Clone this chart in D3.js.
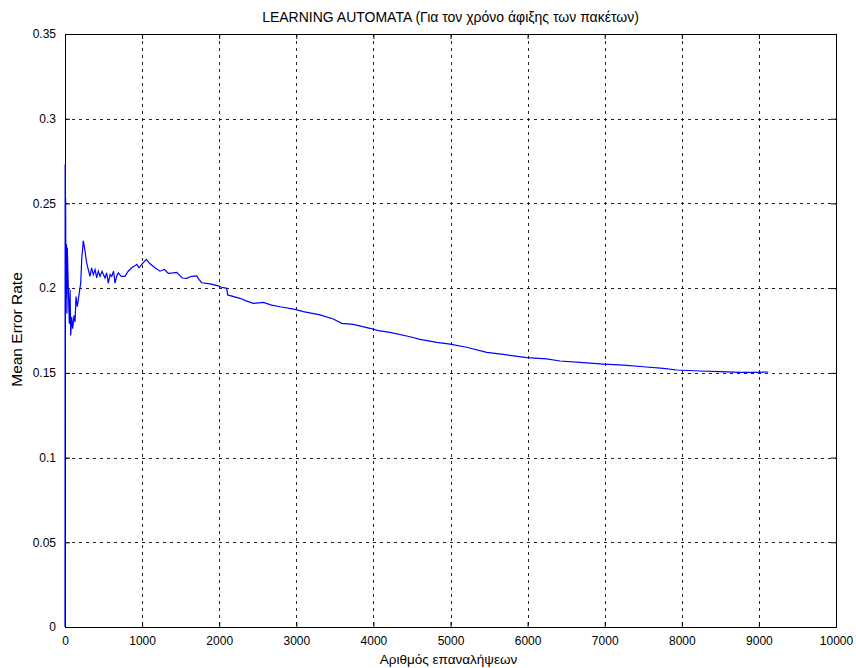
<!DOCTYPE html>
<html>
<head>
<meta charset="utf-8">
<script src="https://cdn.jsdelivr.net/npm/d3@7"></script>
<style>
  body { margin: 0; background: #fff; }
  text { font-family: "Liberation Sans", Arial, sans-serif; fill: #000; }
</style>
</head>
<body>
<div class="chart"></div>
<script>
// iterations vs. mean error rate
var iterations = [0, 2, 5, 8, 12, 18, 25, 30, 43, 56, 66, 74, 87, 100, 117, 130, 143, 160, 178, 204,
  217, 237, 259, 280, 302, 324, 345, 367, 390, 411, 432, 454, 480, 519, 540, 562, 585, 606, 630, 649,
  670, 691, 730, 778, 820, 865, 900, 931, 960, 995, 1055, 1100, 1167, 1232, 1290, 1340, 1400, 1449,
  1520, 1578, 1640, 1708, 1740, 1773, 1880, 1988, 2030, 2097, 2110, 2270, 2350, 2442, 2572, 2680,
  2789, 2983, 3091, 3307, 3480, 3589, 3739, 3956, 4064, 4215, 4475, 4604, 4821, 4994, 5210, 5470,
  5685, 5988, 6248, 6420, 6723, 6982, 7241, 7501, 7760, 7934, 8236, 8495, 8755, 8971, 9122];
var errorRate = [0, 0.273, 0.166, 0.253, 0.195, 0.226, 0.185, 0.224, 0.200, 0.179, 0.199, 0.172, 0.183,
  0.176, 0.184, 0.180, 0.195, 0.189, 0.195, 0.203, 0.217, 0.228, 0.222, 0.215, 0.211, 0.207, 0.212,
  0.208, 0.211, 0.206, 0.210, 0.207, 0.210, 0.206, 0.209, 0.203, 0.208, 0.207, 0.210, 0.203, 0.207,
  0.209, 0.207, 0.207, 0.210, 0.212, 0.213, 0.214, 0.212, 0.214, 0.217, 0.2145, 0.212, 0.210, 0.211,
  0.2087, 0.209, 0.2093, 0.206, 0.2058, 0.207, 0.2072, 0.205, 0.2032, 0.2025, 0.2013, 0.2005, 0.1999,
  0.196, 0.1940, 0.1925, 0.1910, 0.1916, 0.1900, 0.1890, 0.1875, 0.1861, 0.1842, 0.1818, 0.1792,
  0.1786, 0.1763, 0.1749, 0.1739, 0.1713, 0.1698, 0.1680, 0.1670, 0.1651, 0.1621, 0.1609, 0.1590,
  0.1582, 0.1570, 0.1560, 0.1552, 0.1546, 0.1536, 0.1527, 0.1517, 0.1511, 0.1507, 0.1503, 0.1503, 0.1505];

var xTicks = [0, 1000, 2000, 3000, 4000, 5000, 6000, 7000, 8000, 9000, 10000];
var yTicks = [0, 0.05, 0.1, 0.15, 0.2, 0.25, 0.3, 0.35];

var chartTitle = "LEARNING AUTOMATA (Για τον χρόνο άφιξης των πακέτων)";
var xLabel = "Αριθμός επαναλήψεων";
var yLabel = "Mean Error Rate";

var margin = {top: 34, right: 20, bottom: 41, left: 65},
    width = 856 - margin.left - margin.right,
    height = 668 - margin.top - margin.bottom;

var svg = d3.select(".chart").append("svg")
    .attr("width", 856)
    .attr("height", 668);

var g = svg.append("g")
    .attr("transform", "translate(" + margin.left + "," + margin.top + ")");

var x = d3.scaleLinear().domain([0, 10000]).range([0, width]);
var y = d3.scaleLinear().domain([0, 0.35]).range([height, 0]);

// dotted grid
g.append("g")
    .selectAll("line")
    .data(xTicks.slice(1, -1))
    .enter().append("line")
    .attr("x1", function(d) { return Math.round(x(d)) + 0.5; })
    .attr("x2", function(d) { return Math.round(x(d)) + 0.5; })
    .attr("y1", 0).attr("y2", height)
    .attr("stroke", "#222").attr("stroke-dasharray", "3,4");
g.append("g")
    .selectAll("line")
    .data(yTicks.slice(1, -1))
    .enter().append("line")
    .attr("y1", function(d) { return Math.round(y(d)) + 0.5; })
    .attr("y2", function(d) { return Math.round(y(d)) + 0.5; })
    .attr("x1", 0).attr("x2", width)
    .attr("stroke", "#222").attr("stroke-dasharray", "3,4");

// axes, ticks pointing inwards like matlab
var fmt = function(d) { return d === 0 ? "0" : String(+d.toFixed(2)); };
g.append("g")
    .attr("transform", "translate(0," + height + ")")
    .call(d3.axisBottom(x).tickValues(xTicks).tickSize(-5).tickPadding(9).tickFormat(d3.format("d")));
g.append("g")
    .call(d3.axisTop(x).tickValues(xTicks).tickSize(-5).tickFormat(""));
g.append("g")
    .call(d3.axisLeft(y).tickValues(yTicks).tickSize(-5).tickPadding(9).tickFormat(fmt));
g.append("g")
    .attr("transform", "translate(" + width + ",0)")
    .call(d3.axisRight(y).tickValues(yTicks).tickSize(-5).tickFormat(""));
g.selectAll(".domain").attr("stroke", "#000");
g.selectAll(".tick line").attr("stroke", "#000");
g.selectAll(".tick text").style("font-size", "12px");

// the series
var line = d3.line()
    .x(function(d) { return x(d[0]); })
    .y(function(d) { return y(d[1]); });
g.append("path")
    .datum(iterations.map(function(it, i) { return [it, errorRate[i]]; }))
    .attr("fill", "none")
    .attr("stroke", "#0000ff")
    .attr("stroke-width", 1.2)
    .attr("d", line);

// texts
svg.append("text")
    .attr("x", margin.left + width / 2)
    .attr("y", 22)
    .attr("text-anchor", "middle")
    .style("font-size", "14px")
    .text(chartTitle);
svg.append("text")
    .attr("x", margin.left + width / 2 - 2)
    .attr("y", 664)
    .attr("text-anchor", "middle")
    .style("font-size", "13.5px")
    .text(xLabel);
svg.append("text")
    .attr("transform", "translate(22," + (margin.top + height / 2 - 1) + ") rotate(-90)")
    .attr("text-anchor", "middle")
    .style("font-size", "15.5px")
    .text(yLabel);
</script>
</body>
</html>
